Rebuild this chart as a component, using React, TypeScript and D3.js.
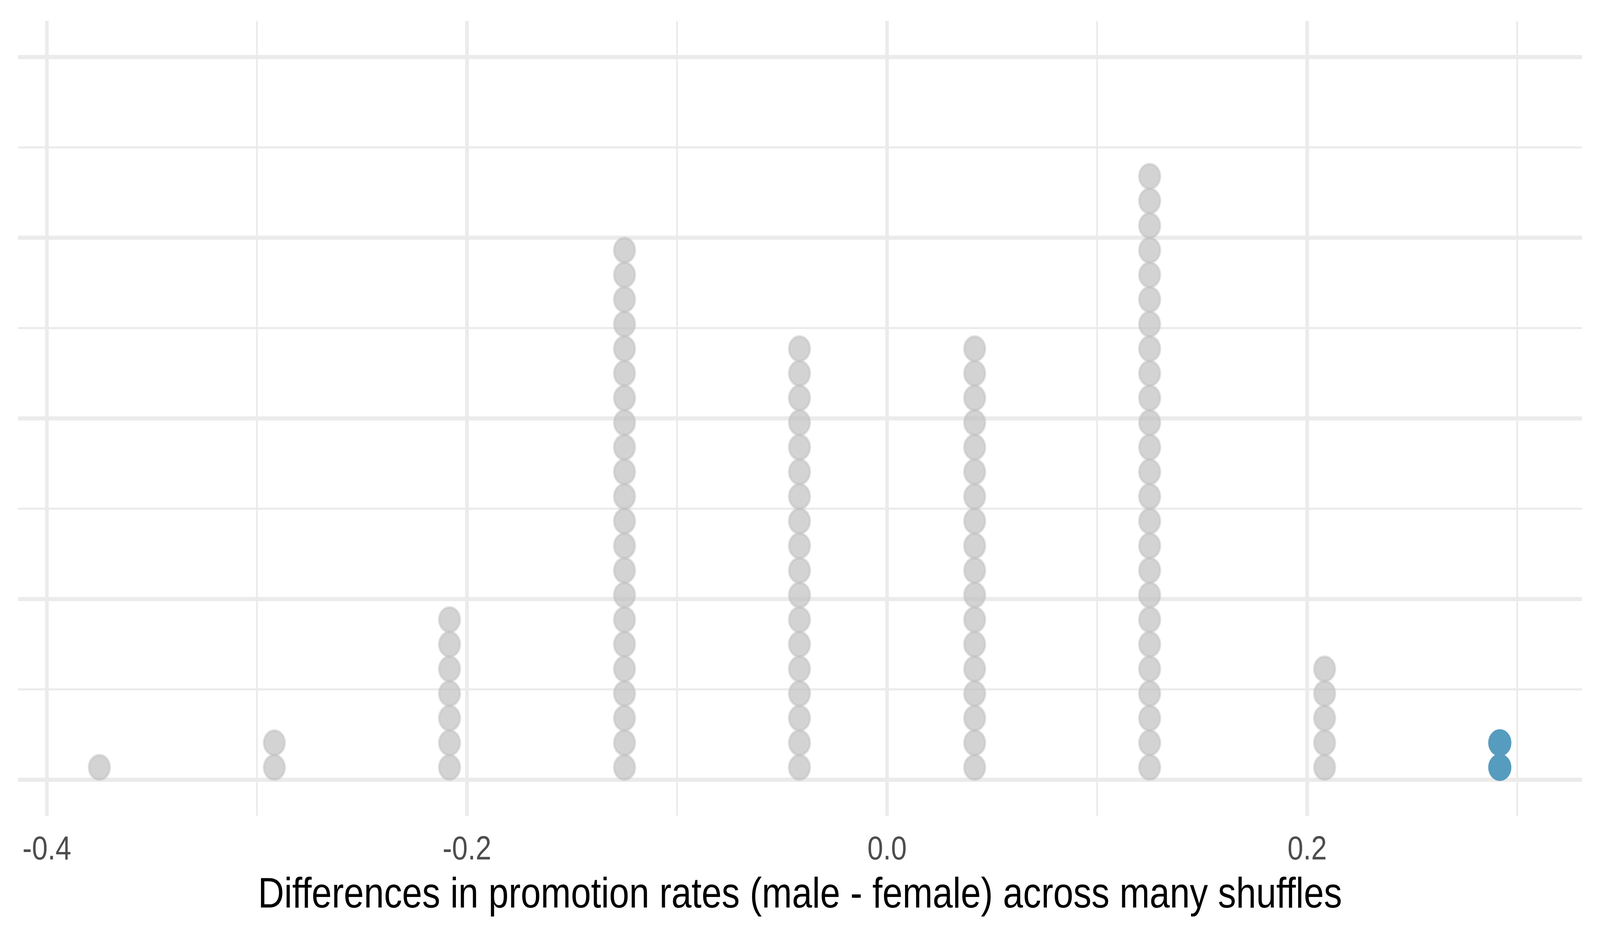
import React, { useEffect } from 'react';
import * as d3 from 'd3';

// Shuffled differences (male - female) and how many shuffles landed on each
const diffValues = [-0.375, -0.2917, -0.2083, -0.125, -0.0417, 0.0417, 0.125, 0.2083, 0.2917];
const diffCounts = [1, 2, 7, 22, 18, 18, 25, 5, 2];
const observedDiff = 0.2917;

const xMajorTicks = [-0.4, -0.2, 0.0, 0.2];
const xMinorTicks = [-0.3, -0.1, 0.1, 0.3];
const xTickLabels = ['-0.4', '-0.2', '0.0', '0.2'];
const yMajorTicks = [0, 0.25, 0.5, 0.75, 1];
const yMinorTicks = [0.125, 0.375, 0.625, 0.875];

const binWidth = 0.01;
const width = 4800;
const height = 2400;
const panel = { left: 54, right: 4746, top: 53.5, bottom: 2087.5 };
const font = '"Liberation Sans", Arial, Helvetica, sans-serif';

const App: React.FC = () => {
  useEffect(() => {
    document.body.style.margin = '0';
    document.body.style.overflow = 'hidden';
  }, []);

  const x = d3.scaleLinear().domain([-0.41374, 0.33083]).range([panel.left, panel.right]);
  const y = d3.scaleLinear().domain([-0.05, 1.05]).range([panel.bottom, panel.top]);

  // dot diameter follows the bin width on the x scale
  const r = (x(binWidth) - x(0)) / 2;

  const dots: { cx: number; cy: number; hit: boolean }[] = [];
  diffValues.forEach((v, i) => {
    for (let k = 0; k < diffCounts[i]; k++) {
      dots.push({ cx: x(v), cy: y(0) - r - k * 2 * r, hit: v >= observedDiff });
    }
  });

  return (
    <svg viewBox={`0 0 ${width} ${height}`} preserveAspectRatio="none"
      style={{ display: 'block', width: '100vw', height: '100vh', background: '#fff' }}>
      <g stroke="#ebebeb">
        {yMinorTicks.map(t => (
          <line key={'ym' + t} x1={panel.left} x2={panel.right} y1={y(t)} y2={y(t)} strokeWidth={5.3} />
        ))}
        {xMinorTicks.map(t => (
          <line key={'xm' + t} x1={x(t)} x2={x(t)} y1={panel.top} y2={panel.bottom} strokeWidth={5.3} />
        ))}
        {yMajorTicks.map(t => (
          <line key={'yM' + t} x1={panel.left} x2={panel.right} y1={y(t)} y2={y(t)} strokeWidth={10.7} />
        ))}
        {xMajorTicks.map(t => (
          <line key={'xM' + t} x1={x(t)} x2={x(t)} y1={panel.top} y2={panel.bottom} strokeWidth={10.7} />
        ))}
      </g>

      <g>
        {dots.map((d, i) =>
          d.hit ? (
            <circle key={i} cx={d.cx} cy={d.cy} r={r} fill="#569cbf" stroke="#569cbf" strokeWidth={6.5} />
          ) : (
            <circle key={i} cx={d.cx} cy={d.cy} r={r} fill="#bebebe" fillOpacity={0.68}
              stroke="#bebebe" strokeOpacity={0.45} strokeWidth={6.5} />
          )
        )}
      </g>

      <g fontFamily={font} fontSize={85} fill="#4d4d4d" textAnchor="middle">
        {xMajorTicks.map((t, i) => (
          <text key={t} x={x(t)} y={2199}>{xTickLabels[i]}</text>
        ))}
      </g>

      <text x={(panel.left + panel.right) / 2} y={2322} fontFamily={font} fontSize={108.5}
        fill="#000" textAnchor="middle">
        Differences in promotion rates (male - female) across many shuffles
      </text>
    </svg>
  );
};

export default App;
